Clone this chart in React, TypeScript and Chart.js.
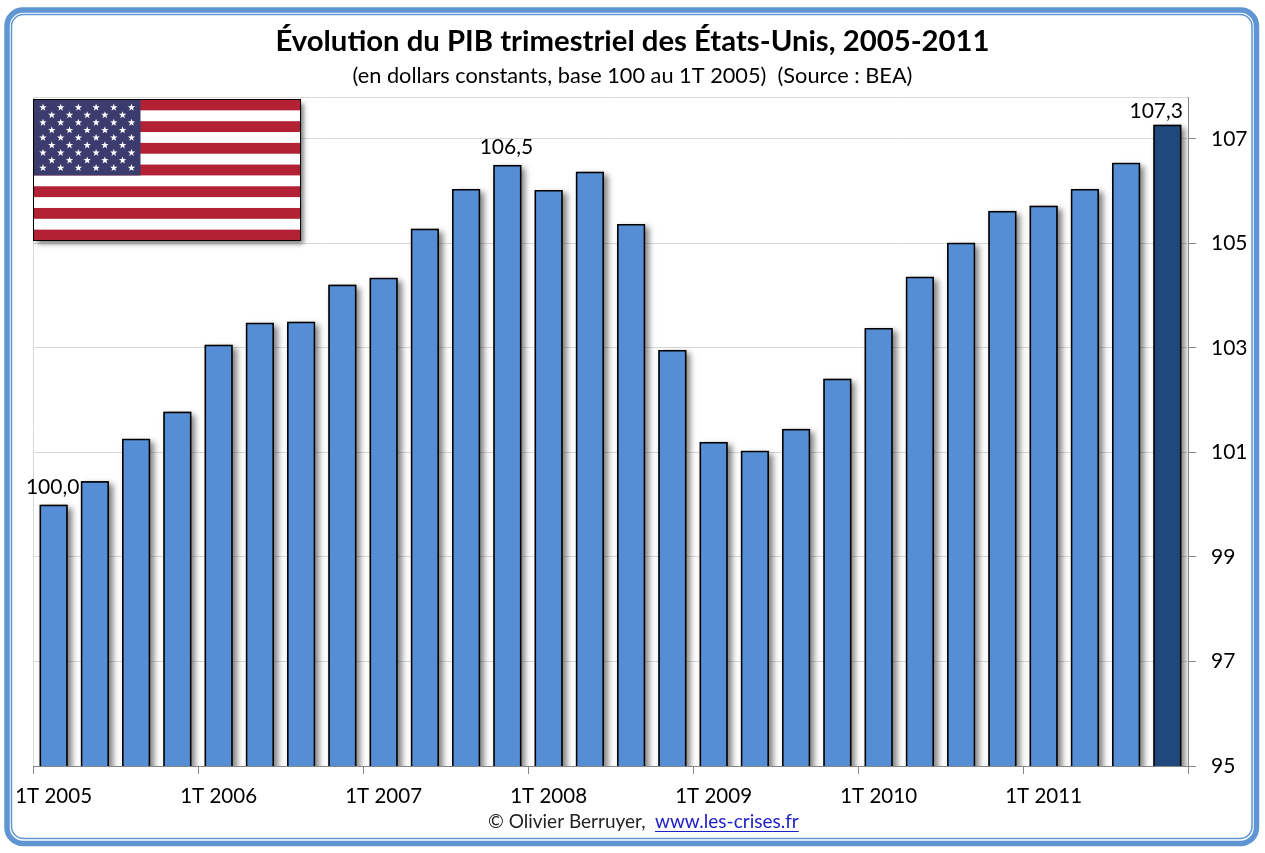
import { useEffect, useRef } from "react";
import { Chart, registerables } from "chart.js";

Chart.register(...registerables);

const FONT = "Lato";
const titleText = "Évolution du PIB trimestriel des États-Unis, 2005-2011";
const subtitleText = "(en dollars constants, base 100 au 1T 2005)  (Source : BEA)";
const creditText = "© Olivier Berruyer,";
const linkText = "www.les-crises.fr";

const quarters = [
  "1T 2005", "2T 2005", "3T 2005", "4T 2005",
  "1T 2006", "2T 2006", "3T 2006", "4T 2006",
  "1T 2007", "2T 2007", "3T 2007", "4T 2007",
  "1T 2008", "2T 2008", "3T 2008", "4T 2008",
  "1T 2009", "2T 2009", "3T 2009", "4T 2009",
  "1T 2010", "2T 2010", "3T 2010", "4T 2010",
  "1T 2011", "2T 2011", "3T 2011", "4T 2011",
];
const pib = [
  100.0, 100.45, 101.26, 101.78,
  103.06, 103.48, 103.5, 104.21,
  104.34, 105.28, 106.04, 106.5,
  106.02, 106.37, 105.37, 102.96,
  101.2, 101.03, 101.45, 102.41,
  103.38, 104.36, 105.01, 105.62,
  105.72, 106.04, 106.54, 107.27,
];
const yTicks = [95, 97, 99, 101, 103, 105, 107];
const labelledBars = [0, 11, 27];

const BLUE = "#558ed5";
const DARK_BLUE = "#1f497d";
const GRID = "#d9d9d9";
const AXIS = "#868686";

// Cadre bleu autour du graphique
const framePlugin = {
  id: "frame",
  beforeDraw(chart: Chart) {
    const ctx = chart.ctx;
    ctx.save();
    ctx.strokeStyle = "#5f95d3";
    ctx.lineWidth = 5.5;
    ctx.beginPath();
    ctx.roundRect(7, 10, 1249.5, 833.5, 16);
    ctx.stroke();
    ctx.lineWidth = 1.5;
    ctx.beginPath();
    ctx.roundRect(11.5, 14.5, 1240.5, 824, 12);
    ctx.stroke();
    ctx.restore();
  },
  beforeDatasetsDraw(chart: Chart) {
    const { ctx, chartArea } = chart;
    ctx.save();
    ctx.strokeStyle = GRID;
    ctx.lineWidth = 1;
    ctx.beginPath();
    ctx.moveTo(chartArea.left, chartArea.top + 0.5);
    ctx.lineTo(chartArea.right, chartArea.top + 0.5);
    ctx.stroke();
    ctx.restore();
  },
};

// Ombre portée des barres (l'élément bar fait un clip, donc on la dessine avant)
const shadowPlugin = {
  id: "barShadow",
  beforeDatasetDraw(chart: Chart) {
    const { ctx, chartArea } = chart;
    const meta = chart.getDatasetMeta(0);
    ctx.save();
    ctx.beginPath();
    ctx.rect(chartArea.left, chartArea.top, chartArea.width, chartArea.height);
    ctx.clip();
    ctx.shadowColor = "rgba(0,0,0,0.5)";
    ctx.shadowBlur = 6;
    ctx.shadowOffsetX = 4;
    ctx.shadowOffsetY = 3;
    ctx.fillStyle = "#000";
    meta.data.forEach((bar: any) => {
      ctx.fillRect(bar.x - bar.width / 2, bar.y, bar.width, bar.base - bar.y);
    });
    ctx.restore();
  },
};

// Valeurs affichées au-dessus de certaines barres
const valueLabelPlugin = {
  id: "valueLabels",
  afterDatasetsDraw(chart: Chart) {
    const { ctx, chartArea } = chart;
    const meta = chart.getDatasetMeta(0);
    ctx.save();
    ctx.font = `21px ${FONT}`;
    ctx.fillStyle = "#000";
    ctx.textAlign = "center";
    ctx.textBaseline = "bottom";
    labelledBars.forEach((i) => {
      const bar = meta.data[i];
      const text = pib[i].toFixed(1).replace(".", ",");
      const half = ctx.measureText(text).width / 2;
      // le dernier libellé reste dans la zone du graphique
      const x = Math.min(bar.x, chartArea.right - 4 - half);
      const y = Math.max(bar.y - 7, chartArea.top + 25);
      ctx.fillText(text, x - 1, y);
    });
    ctx.restore();
  },
};

const drawStar = (ctx: CanvasRenderingContext2D, cx: number, cy: number, r: number) => {
  ctx.beginPath();
  for (let i = 0; i < 10; i++) {
    const rad = i % 2 === 0 ? r : r * 0.4;
    const a = -Math.PI / 2 + (i * Math.PI) / 5;
    ctx.lineTo(cx + rad * Math.cos(a), cy + rad * Math.sin(a));
  }
  ctx.closePath();
  ctx.fill();
};

// Drapeau et mention du bas de page
const decorPlugin = {
  id: "decor",
  afterDraw(chart: Chart) {
    const ctx = chart.ctx;
    const x = 33.5, y = 99.5, w = 267, h = 141;
    ctx.save();
    ctx.save();
    ctx.shadowColor = "rgba(0,0,0,0.55)";
    ctx.shadowBlur = 5;
    ctx.shadowOffsetX = 3;
    ctx.shadowOffsetY = 3;
    ctx.fillStyle = "#fff";
    ctx.fillRect(x, y, w, h);
    ctx.restore();
    const stripe = h / 13;
    ctx.fillStyle = "#b22234";
    for (let i = 0; i < 13; i += 2) ctx.fillRect(x, y + i * stripe, w, stripe);
    const cw = 107, ch = stripe * 7;
    ctx.fillStyle = "#3c3b6e";
    ctx.fillRect(x, y, cw, ch);
    ctx.fillStyle = "#fff";
    for (let row = 0; row < 9; row++) {
      const odd = row % 2 === 1;
      const n = odd ? 5 : 6;
      for (let col = 0; col < n; col++) {
        drawStar(ctx, x + 9.5 + (odd ? 8.8 : 0) + col * 17.7, y + 8 + row * 7.55, 3.9);
      }
    }
    ctx.strokeStyle = "#000";
    ctx.lineWidth = 1;
    ctx.strokeRect(x, y, w, h);

    ctx.font = `19px ${FONT}`;
    ctx.textAlign = "left";
    ctx.textBaseline = "middle";
    ctx.fillStyle = "#222";
    ctx.fillText(creditText, 488, 822);
    ctx.fillStyle = "#2020c8";
    ctx.fillText(linkText, 655, 822);
    const linkWidth = ctx.measureText(linkText).width;
    ctx.strokeStyle = "#2020c8";
    ctx.beginPath();
    ctx.moveTo(655, 831.5);
    ctx.lineTo(655 + linkWidth, 831.5);
    ctx.stroke();
    ctx.restore();
  },
};

const App = () => {
  const chartRef = useRef<HTMLCanvasElement | null>(null);

  useEffect(() => {
    if (!chartRef.current) return;
    const myChart = new Chart(chartRef.current, {
      type: "bar",
      data: {
        labels: quarters,
        datasets: [
          {
            data: pib,
            yAxisID: "y",
            xAxisID: "x",
            backgroundColor: pib.map((_, i) => (i === pib.length - 1 ? DARK_BLUE : BLUE)),
            borderColor: "#000",
            borderWidth: 1.5,
            barPercentage: 0.68,
            categoryPercentage: 1,
          },
        ],
      },
      options: {
        responsive: false,
        animation: false,
        devicePixelRatio: 1,
        plugins: {
          legend: { display: false },
          tooltip: { enabled: false },
          title: {
            display: true,
            text: titleText,
            color: "#000",
            font: { family: FONT, size: 29.3, weight: "bold" },
            padding: { top: 24, bottom: 4 },
          },
          subtitle: {
            display: true,
            text: subtitleText,
            color: "#000",
            font: { family: FONT, size: 21.75 },
            padding: { top: 0, bottom: 7.74 },
          },
        },
        scales: {
          x: {
            afterFit: (scale: any) => {
              scale.height = 87;
            },
            border: { color: AXIS },
            grid: {
              offset: true,
              tickLength: 8,
              color: (c: any) => (c.type === "tick" && c.index === 0 ? GRID : "transparent"),
              tickColor: (c: any) => (c.type !== "tick" || c.index % 4 === 0 ? AXIS : "transparent"),
            },
            ticks: {
              autoSkip: false,
              maxRotation: 0,
              padding: 10,
              color: "#000",
              font: { family: FONT, size: 20.5 },
              callback: (_v: any, i: number) => (i % 4 === 0 ? quarters[i] : ""),
            },
          },
          // axe vide à gauche : réserve la marge sans décaler le titre
          gutter: {
            type: "linear",
            axis: "y",
            position: "left",
            afterFit: (scale: any) => {
              scale.width = 33;
            },
            border: { display: false },
            grid: { display: false },
            ticks: { display: false },
          },
          y: {
            position: "right",
            min: 95,
            max: 107.8,
            afterBuildTicks: (scale: any) => {
              scale.ticks = yTicks.map((value) => ({ value }));
            },
            afterFit: (scale: any) => {
              scale.width = 77;
            },
            border: { color: AXIS },
            grid: { color: GRID, tickColor: AXIS, tickLength: 8 },
            ticks: {
              padding: 15,
              color: "#000",
              font: { family: FONT, size: 21 },
            },
          },
        },
      },
      plugins: [framePlugin, shadowPlugin, valueLabelPlugin, decorPlugin],
    } as any);

    return () => {
      myChart.destroy();
    };
  }, []);

  return (
    <canvas
      ref={chartRef}
      width={1265}
      height={853}
      style={{ position: "absolute", left: 0, top: 0 }}
    />
  );
};

export default App;
